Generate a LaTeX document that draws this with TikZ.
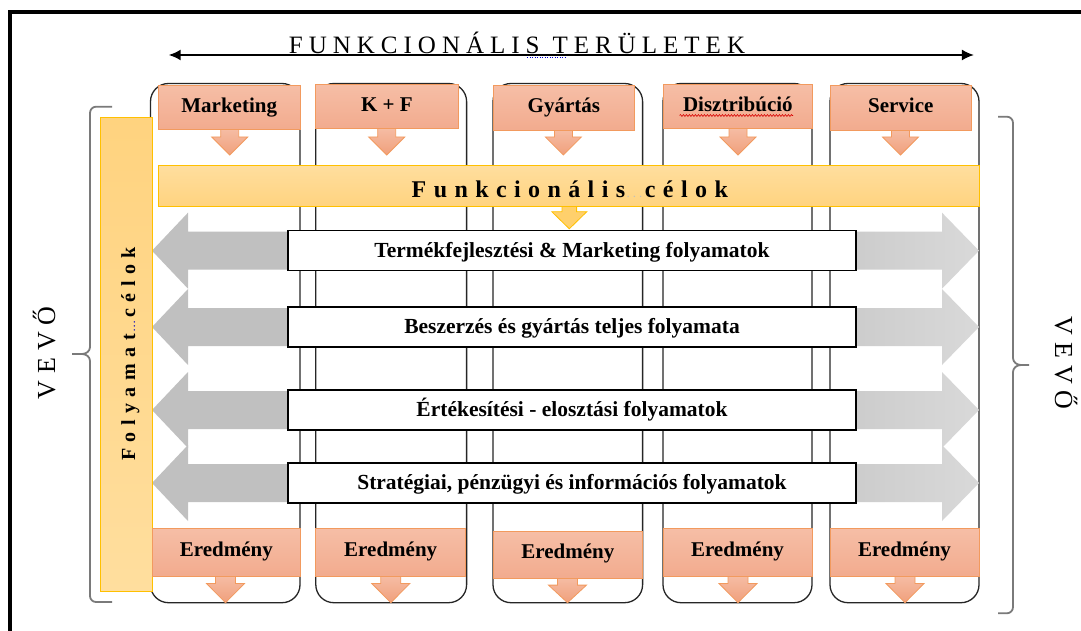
\documentclass[tikz,border=0pt]{standalone}
\usepackage{fontspec}
\setmainfont{Liberation Serif}
\usetikzlibrary{arrows.meta,decorations.pathmorphing}

% letter-spaced text: #1 = extra space between letters, #2 = one word
\ExplSyntaxOn
\NewDocumentCommand\spread{mm}{\tl_map_inline:nn{#2}{##1\kern#1\relax}\unkern}
\ExplSyntaxOff

\definecolor{salmonTop}{HTML}{F6BEA6}
\definecolor{salmonBot}{HTML}{F2AB8E}
\definecolor{salmonLine}{HTML}{F29A5E}
\definecolor{arrowFill}{HTML}{F0A07C}
\definecolor{goldLine}{HTML}{FFC000}
\definecolor{barTop}{HTML}{FFDE9E}
\definecolor{barBot}{HTML}{FFD37F}
\definecolor{grayL}{HTML}{C0C0C0}
\definecolor{grayR1}{HTML}{CCCCCC}
\definecolor{grayR2}{HTML}{D9D9D9}
\definecolor{braceGray}{HTML}{7A7A7A}

\tikzset{
  colbox/.style={draw=black!85, line width=1.3pt, rounded corners=18pt},
  headbox/.style={draw=salmonLine, line width=1pt, top color=salmonTop, bottom color=salmonBot,
    inner sep=0pt, minimum height=44.5pt, text height=15pt, text depth=5pt,
    font=\bfseries\fontsize{21}{21}\selectfont},
  resbox/.style={headbox, minimum height=48pt, text height=12pt, text depth=5pt},
  sarrow/.style={draw=salmonLine, line width=0.8pt, top color=salmonTop, bottom color=arrowFill},
  yarrow/.style={draw=goldLine, line width=0.8pt, fill=barBot!85!goldLine},
  ybar/.style={draw=goldLine, line width=1pt, inner sep=0pt},
  procbox/.style={draw=black, line width=1.3pt, fill=white, inner sep=0pt,
    minimum width=568pt, minimum height=40pt, text height=17pt, text depth=4pt,
    font=\bfseries\fontsize{21.5}{21.5}\selectfont},
  bracket/.style={draw=braceGray, line width=1.8pt},
  spell/.style={draw=red!85!black, line width=0.6pt,
    decorate, decoration={snake, amplitude=0.9pt, segment length=3pt}},
}

% block arrow pointing down: style, x, top, neck, tip, shaft half width, head half width
\newcommand\dnarrow[7]{%
  \path[#1] ({#2-#6},#3) -- ({#2+#6},#3) -- ({#2+#6},#4) -- ({#2+#7},#4)
    -- (#2,#5) -- ({#2-#7},#4) -- ({#2-#6},#4) -- cycle;}

\begin{document}
\begin{tikzpicture}[x=1pt,y=-1pt]
\useasboundingbox (0,0) rectangle (1081,631);
\fill[white] (0,0) rectangle (1081,631);

% page frame
\coordinate (fb) at (10,633);
\coordinate (fc) at (10,12);
\coordinate (fr) at (1083,12);
\draw[line width=4pt, line join=miter] (fb) -- (fc) -- (fr);

% title with double arrow
\coordinate (tl) at (168.7,55);
\coordinate (tr) at (973.9,55);
\draw[line width=1.8pt, {Latex[length=12pt,width=11pt]}-{Latex[length=12pt,width=11pt]}] (tl) -- (tr);
\node[anchor=base, inner sep=0pt, font=\fontsize{25}{25}\selectfont] (title) at (517,53.3)
  {\spread{6pt}{FUNKCIONÁLIS}\kern13pt\spread{6pt}{TERÜLETEK}};
\draw[blue!80!black, line width=0.8pt, dash pattern=on 1pt off 1.5pt] (527,57.5) -- (566,57.5);

% functional columns
\foreach \l/\r in {150.5/300, 315.8/466.6, 493/642.6, 663/812, 830/979}
  \draw[colbox] (\l,83.5) rectangle (\r,602.7);

% process arrows (left and right)
\foreach \cy in {250.7,327,410,483} {
  \fill[grayL] (152,\cy) -- (188,{\cy-38}) -- (188,{\cy-19}) -- (300,{\cy-19})
    -- (300,{\cy+19}) -- (188,{\cy+19}) -- (188,{\cy+38}) -- cycle;
  \shade[left color=grayR1, right color=grayR2] (979,\cy) -- (942,{\cy-38}) -- (942,{\cy-19})
    -- (850,{\cy-19}) -- (850,{\cy+19}) -- (942,{\cy+19}) -- (942,{\cy+38}) -- cycle;
}

% left and right brackets
\draw[bracket] (112,106.7) -- (96,106.7) to[out=180,in=90] (90,113) -- (90,347)
  to[out=270,in=0] (82,354) -- (72,354);
\draw[bracket] (82,354) to[out=0,in=90] (90,361) -- (90,596) to[out=270,in=180] (96,602) -- (112,602);
\draw[bracket] (998,116.7) -- (1007,116.7) to[out=0,in=90] (1013,123) -- (1013,358)
  to[out=270,in=180] (1021,365) -- (1029,365);
\draw[bracket] (1021,365) to[out=180,in=90] (1013,372) -- (1013,607) to[out=270,in=0] (1007,613.3) -- (998,613.3);

% customer labels
\node[rotate=90, anchor=base, inner sep=0pt, font=\fontsize{26}{26}\selectfont] (vevoL) at (55,353)
  {\spread{7pt}{VEVŐ}};
\node[rotate=-90, anchor=base, inner sep=0pt, font=\fontsize{26}{26}\selectfont] (vevoR) at (1055,363)
  {\spread{7pt}{VEVŐ}};

% process goals bar
\node[ybar, top color=barBot, bottom color=barTop, minimum width=52.5pt, minimum height=473.7pt]
  (pbar) at (126.25,354.15) {};
\node[rotate=90, anchor=base, inner sep=0pt, font=\bfseries\fontsize{20}{20}\selectfont] (ptext) at (135,354)
  {\spread{6.5pt}{Folyamat}\kern3pt{\color{blue!75!black}\fontsize{9}{9}\selectfont.\kern1.5pt.\kern1.5pt.}\kern4pt\spread{6.5pt}{célok}};

% functional goals bar and its arrow
\dnarrow{yarrow}{569.3}{205}{211.7}{228.8}{7.3}{17.5}
\node[ybar, top color=barTop, bottom color=barBot, minimum width=820.6pt, minimum height=41pt]
  (fbar) at (568.7,186.2) {};
\node[anchor=base, inner sep=0pt, font=\bfseries\fontsize{24}{24}\selectfont] (ftext) at (569.8,197.3)
  {\spread{7.4pt}{Funkcionális}\kern2pt{\color{gray!50}\fontsize{9}{9}\selectfont.\kern4pt.\kern4pt.}\kern3pt\spread{7.4pt}{célok}};

% functional area headers
\foreach \x/\b in {229.7/129.75, 386.7/128.75, 563.4/130.25, 738/128.75, 900.5/130.25}
  \dnarrow{sarrow}{\x}{\b-2}{137}{155}{9}{18}
\node[headbox, minimum width=141.6pt] (h1) at (229.2,107.5) {Marketing};
\node[headbox, minimum width=142.2pt] (h2) at (386.9,106.5) {K + F};
\node[headbox, minimum width=141.7pt] (h3) at (563.85,108) {Gyártás};
\node[headbox, minimum width=149.7pt] (h4) at (737.85,106.5) {Disztribúció};
\node[headbox, minimum width=141.5pt] (h5) at (900.75,108) {Service};
\draw[spell] (679.5,115.5) -- (793,115.5);

% processes
\node[procbox] (p1) at (572,250.7) {Termékfejlesztési \& Marketing folyamatok};
\node[procbox] (p2) at (572,327) {Beszerzés és gyártás teljes folyamata};
\node[procbox] (p3) at (572,410) {Értékesítési - elosztási folyamatok};
\node[procbox] (p4) at (572,483) {Stratégiai, pénzügyi és információs folyamatok};

% results
\foreach \x/\b in {225.5/576.7, 390.8/576.7, 567.5/578.3, 738/576.7, 905/576.7}
  \dnarrow{sarrow}{\x}{\b-2}{\b+6.8}{602.7}{10}{19}
\node[resbox, minimum width=147.8pt] (r1) at (226.4,552.5) {Eredmény};
\node[resbox, minimum width=149.8pt] (r2) at (390.7,552.5) {Eredmény};
\node[resbox, minimum width=149.6pt, minimum height=47.3pt] (r3) at (567.8,554.7) {Eredmény};
\node[resbox, minimum width=149pt] (r4) at (737.5,552.5) {Eredmény};
\node[resbox, minimum width=149pt] (r5) at (904.5,552.5) {Eredmény};
\end{tikzpicture}
\end{document}
